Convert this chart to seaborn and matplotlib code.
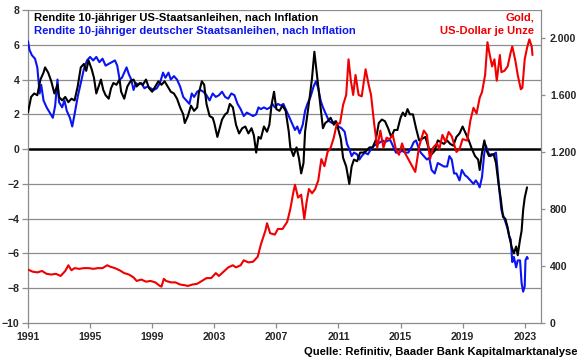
import matplotlib
matplotlib.use("Agg")
import matplotlib.pyplot as plt
import matplotlib.ticker as mticker
import seaborn as sns

# Realrendite 10-jähriger US-Staatsanleihen (Prozent)
us_years = [
    1991.0, 1991.2, 1991.4, 1991.6, 1991.8, 1992.0, 1992.1, 1992.3, 1992.5, 1992.7,
    1992.9, 1993.0, 1993.2, 1993.4, 1993.6, 1993.8, 1994.0, 1994.2, 1994.4, 1994.6,
    1994.75, 1994.9, 1995.1, 1995.25, 1995.4, 1995.55, 1995.7, 1995.85, 1996.0, 1996.2,
    1996.35, 1996.5, 1996.7, 1996.9, 1997.0, 1997.2, 1997.4, 1997.6, 1997.8, 1998.0,
    1998.2, 1998.4, 1998.6, 1998.8, 1999.0, 1999.2, 1999.4, 1999.6, 1999.8, 2000.0,
    2000.2, 2000.4, 2000.6, 2000.8, 2001.0, 2001.1, 2001.3, 2001.5, 2001.7, 2001.9,
    2002.0, 2002.2, 2002.35, 2002.5, 2002.7, 2002.9, 2003.0, 2003.2, 2003.35, 2003.5,
    2003.7, 2003.85, 2004.0, 2004.2, 2004.4, 2004.6, 2004.8, 2005.0, 2005.2, 2005.4,
    2005.55, 2005.7, 2005.85, 2006.0, 2006.2, 2006.4, 2006.55, 2006.7, 2006.85, 2007.0,
    2007.2, 2007.4, 2007.6, 2007.8, 2007.9, 2008.1, 2008.3, 2008.45, 2008.6, 2008.75,
    2008.85, 2009.0, 2009.15, 2009.3, 2009.45, 2009.55, 2009.7, 2009.85, 2010.0, 2010.15,
    2010.3, 2010.5, 2010.7, 2010.85, 2011.0, 2011.15, 2011.3, 2011.5, 2011.7, 2011.85,
    2012.0, 2012.2, 2012.4, 2012.6, 2012.8, 2013.0, 2013.2, 2013.4, 2013.6, 2013.8,
    2014.0, 2014.2, 2014.4, 2014.6, 2014.8, 2015.0, 2015.15, 2015.3, 2015.45, 2015.6,
    2015.8, 2016.0, 2016.2, 2016.4, 2016.6, 2016.8, 2017.0, 2017.2, 2017.4, 2017.6,
    2017.8, 2018.0, 2018.2, 2018.4, 2018.6, 2018.8, 2019.0, 2019.2, 2019.4, 2019.6,
    2019.8, 2020.0, 2020.1, 2020.25, 2020.4, 2020.55, 2020.7, 2020.85, 2021.0, 2021.15,
    2021.3, 2021.45, 2021.6, 2021.75, 2021.9, 2022.0, 2022.15, 2022.3, 2022.45, 2022.55,
    2022.7, 2022.8, 2022.9, 2023.0, 2023.15,
]
us_real = [
    2.1, 3.0, 3.2, 3.1, 4.0, 4.4, 4.7, 4.4, 3.9, 3.2,
    3.7, 3.0, 2.8, 3.0, 2.7, 2.9, 2.8, 3.6, 4.7, 4.9,
    4.5, 5.1, 4.6, 4.1, 3.2, 3.6, 4.0, 3.4, 3.1, 2.9,
    3.5, 3.8, 3.7, 4.0, 3.3, 2.9, 3.6, 3.9, 4.0, 3.6,
    3.8, 3.7, 4.0, 3.5, 3.3, 3.6, 3.9, 3.7, 3.9, 3.6,
    3.3, 3.2, 2.9, 2.4, 2.0, 1.5, 1.9, 2.5, 2.2, 2.4,
    3.2, 3.9, 3.7, 2.6, 1.9, 1.8, 1.5, 0.7, 1.2, 1.7,
    2.0, 2.1, 2.6, 2.4, 1.4, 0.9, 1.2, 1.3, 0.9, 1.2,
    0.8, -0.2, 0.7, 0.6, 1.3, 1.0, 1.4, 2.6, 3.3, 2.3,
    2.2, 2.5, 2.2, 1.0, 0.1, -0.4, 0.1, -0.5, -1.4, -0.8,
    1.0, 2.0, 3.0, 4.1, 5.6, 4.8, 3.6, 2.4, 1.2, 1.5,
    1.6, 1.8, 1.4, 1.6, 1.1, 0.6, -0.5, -1.0, -2.0, -1.0,
    -0.6, -0.7, -0.2, -0.2, -0.1, 0.1, 0.1, 0.5, 1.5, 1.7,
    1.6, 1.2, 0.7, 1.1, 1.1, 1.8, 2.1, 1.9, 2.3, 2.0,
    2.0, 1.2, 0.5, 0.6, 0.7, 0.1, -0.3, -0.1, 0.5, 0.4,
    0.3, 0.5, 0.3, 0.2, 0.7, 0.9, 1.3, 0.9, 0.5, 0.0,
    -0.4, -0.6, -1.2, -0.2, 0.5, -0.1, -0.4, -0.3, -0.3, -0.8,
    -1.9, -2.8, -3.9, -4.0, -4.5, -5.0, -5.6, -6.0, -5.6, -6.1,
    -5.2, -4.7, -3.5, -2.8, -2.2,
]

# Realrendite 10-jähriger deutscher Staatsanleihen (Prozent)
de_years = [
    1991.0, 1991.1, 1991.25, 1991.45, 1991.6, 1991.75, 1991.85, 1992.0, 1992.2, 1992.4,
    1992.6, 1992.75, 1992.9, 1993.0, 1993.2, 1993.35, 1993.5, 1993.7, 1993.85, 1994.0,
    1994.2, 1994.4, 1994.6, 1994.8, 1995.0, 1995.2, 1995.4, 1995.6, 1995.8, 1996.0,
    1996.2, 1996.4, 1996.6, 1996.75, 1996.9, 1997.05, 1997.2, 1997.35, 1997.5, 1997.65,
    1997.8, 1997.95, 1998.1, 1998.3, 1998.5, 1998.7, 1998.9, 1999.1, 1999.3, 1999.5,
    1999.7, 1999.85, 2000.05, 2000.2, 2000.4, 2000.6, 2000.8, 2001.0, 2001.2, 2001.4,
    2001.55, 2001.7, 2001.9, 2002.1, 2002.3, 2002.5, 2002.7, 2002.9, 2003.1, 2003.3,
    2003.5, 2003.7, 2003.9, 2004.1, 2004.3, 2004.5, 2004.7, 2004.9, 2005.1, 2005.3,
    2005.5, 2005.7, 2005.85, 2006.0, 2006.2, 2006.4, 2006.6, 2006.75, 2006.9, 2007.1,
    2007.3, 2007.45, 2007.6, 2007.8, 2008.0, 2008.2, 2008.35, 2008.5, 2008.7, 2008.85,
    2009.0, 2009.2, 2009.4, 2009.55, 2009.7, 2009.85, 2010.0, 2010.2, 2010.4, 2010.6,
    2010.8, 2011.0, 2011.2, 2011.4, 2011.55, 2011.7, 2011.85, 2012.0, 2012.2, 2012.35,
    2012.5, 2012.7, 2012.9, 2013.1, 2013.3, 2013.5, 2013.7, 2013.85, 2014.0, 2014.2,
    2014.35, 2014.5, 2014.7, 2014.9, 2015.1, 2015.3, 2015.5, 2015.7, 2015.85, 2016.0,
    2016.15, 2016.3, 2016.5, 2016.7, 2016.85, 2017.0, 2017.2, 2017.4, 2017.6, 2017.8,
    2018.0, 2018.15, 2018.3, 2018.45, 2018.6, 2018.8, 2018.95, 2019.15, 2019.3, 2019.5,
    2019.7, 2019.85, 2020.0, 2020.1, 2020.25, 2020.4, 2020.5, 2020.65, 2020.8, 2021.0,
    2021.15, 2021.25, 2021.35, 2021.5, 2021.65, 2021.8, 2021.9, 2022.0, 2022.1, 2022.2,
    2022.3, 2022.45, 2022.55, 2022.7, 2022.8, 2022.9, 2023.0, 2023.05, 2023.15, 2023.2,
]
de_real = [
    6.2, 5.7, 5.4, 5.2, 4.7, 3.2, 3.7, 2.8, 2.4, 2.1,
    1.8, 2.5, 4.0, 2.7, 2.4, 2.8, 2.2, 1.8, 1.3, 2.0,
    3.0, 3.8, 4.6, 5.1, 5.3, 5.1, 5.3, 5.0, 5.2, 4.8,
    4.9, 5.0, 5.1, 4.8, 4.0, 4.1, 4.4, 4.7, 4.3, 4.0,
    3.4, 3.8, 3.7, 3.8, 3.5, 3.6, 3.5, 3.4, 3.5, 3.8,
    4.4, 4.1, 4.4, 4.0, 4.2, 4.0, 3.6, 3.0, 2.8, 2.6,
    3.2, 3.0, 3.3, 3.4, 3.3, 3.1, 2.8, 3.2, 3.0, 3.1,
    3.3, 3.0, 2.9, 3.2, 3.1, 2.6, 2.3, 1.9, 2.1, 2.0,
    1.9, 2.0, 2.4, 2.3, 2.4, 2.3, 2.4, 2.6, 2.4, 2.6,
    2.5, 2.6, 2.3, 1.9, 1.5, 1.1, 1.3, 0.9, 1.4, 2.2,
    2.6, 3.0, 3.6, 3.9, 3.5, 2.8, 2.4, 2.0, 1.6, 1.5,
    1.6, 1.3, 1.2, 1.0, 0.3, 0.0, -0.4, -0.2, -0.3, -0.6,
    -0.4, -0.2, -0.3, 0.0, 0.2, 0.3, 0.4, 0.5, 0.4, 0.5,
    0.5, 0.2, -0.2, -0.2, -0.1, -0.2, -0.2, 0.1, 0.4, 0.5,
    0.1, -0.2, -0.4, -0.6, -0.5, -1.2, -1.4, -0.8, -0.9, -1.0,
    -1.0, -0.4, -0.6, -1.4, -1.4, -1.8, -1.2, -1.5, -1.6, -1.8,
    -2.0, -1.8, -2.0, -2.2, -1.6, -0.2, 0.2, -0.2, -0.4, -0.3,
    -0.2, -1.2, -2.2, -3.5, -3.9, -4.3, -4.6, -5.0, -5.2, -6.5,
    -6.2, -6.8, -6.4, -6.4, -7.7, -8.2, -7.9, -6.4, -6.2, -6.3,
]

# Goldpreis, US-Dollar je Unze
gold_years = [
    1991.0, 1991.3, 1991.6, 1991.9, 1992.2, 1992.5, 1992.8, 1993.1, 1993.4, 1993.6,
    1993.8, 1994.0, 1994.3, 1994.6, 1994.9, 1995.2, 1995.5, 1995.8, 1996.1, 1996.3,
    1996.6, 1996.9, 1997.2, 1997.5, 1997.8, 1998.0, 1998.3, 1998.6, 1998.9, 1999.2,
    1999.5, 1999.6, 1999.75, 1999.9, 2000.2, 2000.5, 2000.8, 2001.1, 2001.3, 2001.6,
    2001.9, 2002.2, 2002.5, 2002.8, 2003.1, 2003.3, 2003.6, 2003.9, 2004.2, 2004.4,
    2004.7, 2004.9, 2005.2, 2005.5, 2005.8, 2006.0, 2006.3, 2006.4, 2006.6, 2006.9,
    2007.1, 2007.4, 2007.7, 2007.9, 2008.1, 2008.2, 2008.4, 2008.6, 2008.8, 2008.95,
    2009.1, 2009.3, 2009.5, 2009.7, 2009.9, 2010.1, 2010.3, 2010.5, 2010.7, 2010.9,
    2011.1, 2011.3, 2011.5, 2011.65, 2011.8, 2011.95, 2012.1, 2012.3, 2012.5, 2012.75,
    2012.95, 2013.1, 2013.3, 2013.5, 2013.7, 2013.9, 2014.1, 2014.3, 2014.5, 2014.7,
    2014.9, 2015.1, 2015.3, 2015.5, 2015.7, 2015.95, 2016.2, 2016.5, 2016.7, 2016.9,
    2017.1, 2017.35, 2017.5, 2017.7, 2017.9, 2018.1, 2018.3, 2018.6, 2018.8, 2019.0,
    2019.3, 2019.5, 2019.7, 2019.9, 2020.1, 2020.25, 2020.45, 2020.6, 2020.75, 2020.9,
    2021.05, 2021.2, 2021.4, 2021.5, 2021.7, 2021.9, 2022.1, 2022.2, 2022.4, 2022.55,
    2022.75, 2022.85, 2023.0, 2023.15, 2023.3, 2023.45, 2023.5,
]
gold_usd = [
    375, 360, 355, 365, 345, 340, 345, 330, 365, 405,
    370, 385, 380, 385, 385, 380, 385, 385, 405, 395,
    385, 370, 350, 340, 320, 295, 305, 290, 295, 285,
    260, 255, 310, 295, 285, 285, 270, 265, 260, 270,
    275, 295, 315, 315, 350, 330, 360, 390, 405, 390,
    405, 440, 425, 430, 465, 550, 650, 700, 630, 620,
    660, 660, 710, 800, 920, 970, 880, 900, 730, 850,
    940, 910, 940, 1000, 1150, 1100, 1200, 1230, 1300, 1400,
    1400, 1530, 1600, 1850, 1700, 1600, 1740, 1600, 1590, 1780,
    1670, 1600, 1400, 1230, 1350, 1230, 1300, 1290, 1320, 1220,
    1180, 1260, 1190, 1150, 1110, 1060, 1240, 1350, 1320, 1150,
    1230, 1260, 1220, 1320, 1270, 1340, 1310, 1200, 1220, 1290,
    1280, 1420, 1510, 1470, 1580, 1620, 1740, 1970, 1880, 1800,
    1850, 1700, 1880, 1760, 1770, 1800, 1900, 1940, 1840, 1740,
    1640, 1650, 1850, 1930, 1990, 1940, 1880,
]

year_ticks = list(range(1991, 2024, 4))
left_ticks = list(range(-10, 9, 2))
gold_ticks = [0, 400, 800, 1200, 1600, 2000]

sns.set_style("white")
plt.rcParams["font.family"] = ["Liberation Sans", "DejaVu Sans"]
plt.rcParams["font.weight"] = "bold"

W, H = 580, 359
fig = plt.figure(figsize=(W / 100, H / 100), dpi=100)
ax = fig.add_axes([28 / W, 36 / H, 513 / W, 313 / H])
ax2 = ax.twinx()

grid_c = "#8c8c8c"
for v in left_ticks:
    if v in (0, -10):
        continue
    ax.axhline(v, color=grid_c, lw=0.9, zorder=0)

sns.lineplot(x=de_years, y=de_real, ax=ax, color="#0a14f0", lw=1.5, zorder=3)
sns.lineplot(x=us_years, y=us_real, ax=ax, color="black", lw=1.5, zorder=4)
ax.axhline(0, color="black", lw=1.8, zorder=2)
sns.lineplot(x=gold_years, y=gold_usd, ax=ax2, color="#f00000", lw=1.5)

ax.set_xlim(1991, 2024.05)
ax.set_ylim(-10, 8)
ax2.set_ylim(0, 2196)
ax.set_xticks(year_ticks)
ax.set_yticks(left_ticks)
ax2.set_yticks(gold_ticks)
ax2.yaxis.set_major_formatter(
    mticker.FuncFormatter(lambda v, p: f"{int(v):,}".replace(",", ".")))
ax.set_xlabel("")
ax.set_ylabel("")
ax2.set_ylabel("")

for a in (ax, ax2):
    for side in a.spines:
        a.spines[side].set_color(grid_c)
        a.spines[side].set_linewidth(0.9)
    a.spines["top"].set_visible(False)
ax.spines["right"].set_visible(False)
ax2.spines["left"].set_visible(False)
ax2.spines["bottom"].set_visible(False)

tick_fs = 7.6
ax.tick_params(axis="y", length=4.5, width=0.9, color=grid_c, labelsize=tick_fs, pad=1.5, left=True)
ax.tick_params(axis="x", length=3.5, width=0.9, color=grid_c, labelsize=tick_fs, pad=3, bottom=True)
ax2.tick_params(axis="y", length=3, width=0.9, color=grid_c, labelsize=tick_fs, pad=3.5, right=True)
for lab in ax.get_xticklabels() + ax.get_yticklabels() + ax2.get_yticklabels():
    lab.set_fontweight("bold")

def fx(px):
    return px / W

def fy(py):
    return 1 - py / H

txt_fs = 8.1
fig.text(fx(34), fy(18), "Rendite 10-jähriger US-Staatsanleihen, nach Inflation",
         color="black", fontsize=txt_fs, fontweight="bold", va="center", ha="left")
fig.text(fx(34), fy(31), "Rendite 10-jähriger deutscher Staatsanleihen, nach Inflation",
         color="#0a14f0", fontsize=txt_fs, fontweight="bold", va="center", ha="left")
fig.text(fx(534), fy(17), "Gold,", color="#f00000", fontsize=txt_fs,
         fontweight="bold", va="center", ha="right")
fig.text(fx(534), fy(31), "US-Dollar je Unze", color="#f00000", fontsize=txt_fs,
         fontweight="bold", va="center", ha="right")
fig.text(fx(578), fy(352), "Quelle: Refinitiv, Baader Bank Kapitalmarktanalyse",
         color="black", fontsize=txt_fs, fontweight="bold", va="center", ha="right")

fig.savefig("out.png", dpi=100, facecolor="white")
